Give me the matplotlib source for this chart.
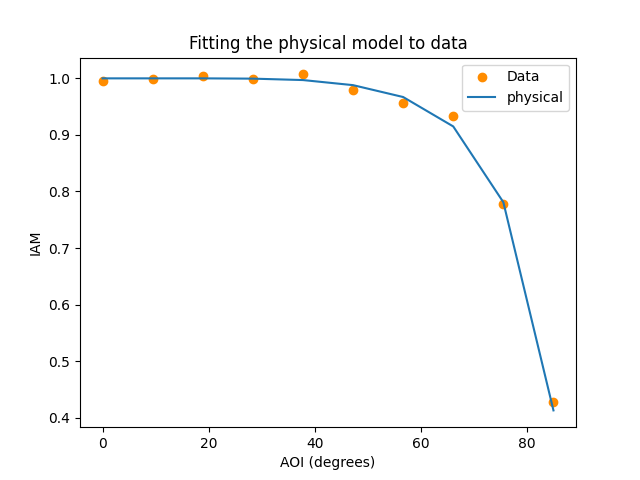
import numpy as np
import matplotlib
matplotlib.use("Agg")
import matplotlib.pyplot as plt

aoi = np.linspace(0, 85, 10)
data_iam = [0.995, 0.998, 1.004, 0.998, 1.007, 0.979, 0.956, 0.933, 0.778, 0.428]
physical_iam = [1.0, 1.0, 1.0, 0.9995, 0.997, 0.988, 0.967, 0.915, 0.781, 0.413]

fig, ax = plt.subplots(figsize=(6.4, 4.8), dpi=100)
ax.scatter(aoi, data_iam, c="darkorange", label="Data")
ax.plot(aoi, physical_iam, label="physical")
ax.set_xlabel("AOI (degrees)")
ax.set_ylabel("IAM")
ax.set_title("Fitting the physical model to data")
ax.legend()
fig.savefig("out.png")
